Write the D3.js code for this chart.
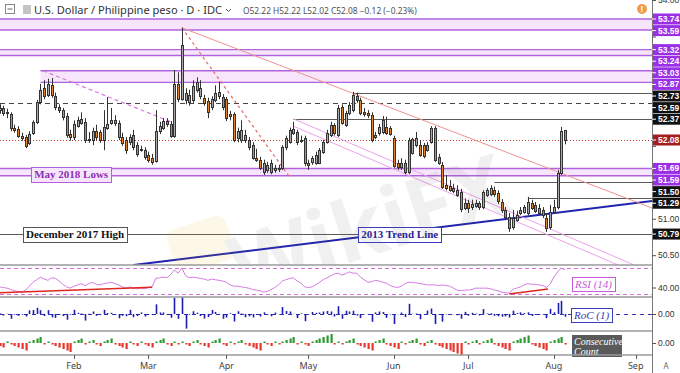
<!DOCTYPE html>
<html>
<head>
<meta charset="utf-8">
<script src="https://cdn.jsdelivr.net/npm/d3@7"></script>
<style>
  body { margin: 0; background: #fff; }
  svg { display: block; }
  text { font-family: "Noto Sans", "DejaVu Sans", sans-serif; }
</style>
</head>
<body>
<svg id="chart" width="680" height="373"></svg>
<script>
// daily bars, first one on startDate, one per weekday
const startDate = "2019-01-04";

const opens = [
  52.49, 52.52, 52.45, 52.44, 52.25, 52.23, 52.14, 52.12, 52.04, 52.18,
  52.33, 52.60, 52.79, 52.70, 52.83, 52.68, 52.53, 52.49, 52.41, 52.16,
  52.12, 52.27, 52.31, 52.33, 52.08, 52.08, 52.20, 52.19, 52.08, 52.25,
  52.31, 52.35, 52.31, 52.12, 52.08, 52.05, 52.15, 52.01, 51.94, 51.94,
  51.88, 51.83, 51.79, 52.20, 52.25, 52.34, 52.30, 52.14, 52.85, 52.64,
  52.63, 52.60, 52.63, 52.77, 52.68, 52.66, 52.62, 52.53, 52.63, 52.68,
  52.67, 52.64, 52.44, 52.44, 52.11, 52.08, 52.15, 52.08, 52.01, 51.83,
  51.81, 51.64, 51.67, 51.77, 51.67, 51.70, 51.70, 51.98, 52.05, 52.18,
  52.19, 52.07, 52.11, 51.77, 51.78, 51.77, 51.77, 51.92, 52.05, 52.15,
  52.29, 52.15, 52.53, 52.29, 52.45, 52.49, 52.68, 52.63, 52.46, 52.45,
  52.42, 52.12, 52.18, 52.19, 52.26, 52.25, 52.11, 51.77, 51.71, 51.77,
  51.64, 51.90, 52.01, 52.01, 52.01, 51.94, 52.05, 52.25, 51.85, 51.74,
  51.46, 51.45, 51.42, 51.39, 51.37, 51.15, 51.22, 51.16, 51.18, 51.22,
  51.16, 51.33, 51.34, 51.39, 51.35, 51.23, 51.12, 51.02, 50.89, 50.98,
  51.08, 51.09, 51.08, 51.22, 51.19, 51.15, 51.12, 51.01, 50.89, 51.09,
  51.16, 51.63, 52.22
];
const highs = [
  52.57, 52.55, 52.51, 52.46, 52.29, 52.27, 52.18, 52.15, 52.20, 52.35,
  52.63, 52.85, 52.90, 52.92, 52.93, 52.73, 52.57, 52.52, 52.45, 52.22,
  52.35, 52.40, 52.46, 52.38, 52.19, 52.25, 52.29, 52.22, 52.49, 52.67,
  52.52, 52.42, 52.35, 52.18, 52.12, 52.16, 52.22, 52.05, 52.00, 51.98,
  51.92, 51.89, 52.49, 52.33, 52.38, 52.38, 52.34, 53.04, 53.01, 53.62,
  52.79, 52.77, 52.90, 52.94, 52.90, 52.70, 52.66, 52.68, 52.83, 52.88,
  52.71, 52.67, 52.48, 52.46, 52.25, 52.35, 52.22, 52.12, 52.05, 51.96,
  51.85, 51.81, 51.78, 51.81, 51.74, 51.74, 52.01, 52.14, 52.25, 52.33,
  52.22, 52.14, 52.14, 51.81, 51.86, 51.92, 51.97, 52.08, 52.22, 52.33,
  52.31, 52.56, 52.57, 52.48, 52.60, 52.74, 52.73, 52.66, 52.52, 52.49,
  52.46, 52.19, 52.30, 52.41, 52.40, 52.27, 52.14, 51.81, 51.83, 51.81,
  52.11, 52.11, 52.19, 52.08, 52.04, 52.05, 52.27, 52.27, 51.89, 51.78,
  51.60, 51.53, 51.48, 51.46, 51.41, 51.28, 51.26, 51.26, 51.26, 51.24,
  51.39, 51.42, 51.46, 51.44, 51.39, 51.27, 51.16, 51.08, 51.12, 51.11,
  51.16, 51.19, 51.30, 51.26, 51.23, 51.20, 51.16, 51.07, 51.19, 51.26,
  51.67, 52.26, 52.22
];
const lows = [
  52.44, 52.41, 52.38, 52.20, 52.18, 52.11, 52.07, 51.97, 52.01, 52.15,
  52.30, 52.57, 52.64, 52.67, 52.66, 52.49, 52.45, 52.35, 52.11, 52.07,
  52.08, 52.25, 52.29, 52.04, 52.04, 52.01, 52.08, 52.04, 51.94, 52.22,
  52.29, 52.27, 52.08, 52.00, 51.89, 52.01, 51.94, 51.85, 51.92, 51.81,
  51.77, 51.74, 51.77, 52.16, 52.22, 52.26, 52.11, 52.11, 52.60, 52.62,
  52.57, 52.55, 52.59, 52.73, 52.64, 52.55, 52.38, 52.49, 52.60, 52.64,
  52.49, 52.34, 52.35, 52.05, 52.05, 52.04, 52.04, 51.94, 51.81, 51.78,
  51.67, 51.60, 51.63, 51.61, 51.63, 51.64, 51.67, 51.94, 52.03, 52.15,
  52.01, 52.04, 51.72, 51.67, 51.74, 51.74, 51.75, 51.89, 52.03, 52.12,
  52.14, 52.12, 52.29, 52.26, 52.42, 52.46, 52.59, 52.42, 52.40, 52.38,
  52.05, 52.09, 52.14, 52.16, 52.15, 52.14, 51.70, 51.67, 51.67, 51.61,
  51.61, 51.88, 51.98, 51.85, 51.83, 51.92, 52.03, 51.78, 51.74, 51.41,
  51.39, 51.37, 51.35, 51.30, 51.09, 51.12, 51.08, 51.12, 51.15, 51.12,
  51.13, 51.30, 51.31, 51.30, 51.20, 51.08, 50.98, 50.82, 50.85, 50.96,
  51.05, 51.07, 51.05, 51.12, 51.08, 51.05, 51.01, 50.82, 50.85, 51.07,
  51.13, 51.60, 52.02
];
const closes = [
  52.52, 52.45, 52.46, 52.25, 52.22, 52.14, 52.11, 52.00, 52.16, 52.33,
  52.60, 52.77, 52.68, 52.85, 52.70, 52.53, 52.49, 52.40, 52.15, 52.12,
  52.30, 52.35, 52.37, 52.08, 52.09, 52.20, 52.12, 52.08, 52.26, 52.30,
  52.35, 52.31, 52.12, 52.04, 51.94, 52.12, 51.98, 51.89, 51.96, 51.85,
  51.81, 51.78, 52.20, 52.27, 52.34, 52.30, 52.14, 52.85, 52.64, 53.38,
  52.73, 52.70, 52.82, 52.88, 52.79, 52.59, 52.46, 52.64, 52.73, 52.74,
  52.53, 52.38, 52.41, 52.08, 52.20, 52.22, 52.08, 51.98, 51.83, 51.81,
  51.70, 51.77, 51.74, 51.64, 51.70, 51.68, 51.98, 52.11, 52.22, 52.23,
  52.05, 52.08, 51.77, 51.74, 51.83, 51.88, 51.94, 52.05, 52.18, 52.29,
  52.18, 52.52, 52.31, 52.45, 52.56, 52.70, 52.63, 52.45, 52.44, 52.42,
  52.08, 52.15, 52.26, 52.35, 52.18, 52.16, 51.72, 51.71, 51.77, 51.64,
  52.08, 52.09, 52.11, 51.88, 51.86, 52.01, 52.25, 51.81, 51.77, 51.44,
  51.42, 51.39, 51.38, 51.33, 51.13, 51.22, 51.15, 51.20, 51.22, 51.16,
  51.37, 51.39, 51.42, 51.34, 51.24, 51.12, 51.02, 50.87, 51.01, 51.05,
  51.12, 51.16, 51.23, 51.15, 51.11, 51.08, 51.05, 50.87, 51.09, 51.16,
  51.63, 52.20, 52.08
];

// RSI (14)
const rsi = [
  41, 40, 39, 37, 35, 34, 33, 36, 42, 48,
  52, 56, 53, 51, 55, 54, 50, 45, 41, 39,
  42, 44, 46, 43, 46, 48, 45, 44, 46, 47,
  48, 46, 44, 41, 39, 41, 39, 38, 39, 38,
  40, 41, 54, 55, 56, 55, 60, 67, 62, 70,
  58, 55, 56, 55, 54, 53, 51, 53, 52, 51,
  50, 48, 44, 42, 42, 41, 40, 39, 37, 36,
  35, 33, 34, 37, 40, 44, 50, 52, 54, 55,
  50, 47, 41, 40, 41, 44, 48, 52, 55, 58,
  61, 62, 59, 61, 64, 62, 62, 56, 52, 48,
  49, 51, 50, 48, 47, 43, 41, 40, 42, 46,
  48, 48, 47, 46, 45, 44, 44, 44, 43, 44,
  43, 42, 39, 36, 35, 36, 36, 37, 39, 39,
  39, 39, 38, 36, 35, 33, 32, 31.5, 37, 39,
  41, 44, 46, 45, 45, 44, 43, 40, 45, 56,
  64, 70, 67
];

// RoC (1), percent
const roc = [
  0.05, -0.13, 0.02, -0.40, -0.06, -0.15, -0.06, -0.21, 0.31, 0.33,
  0.52, 0.32, -0.17, 0.32, -0.28, -0.32, -0.08, -0.17, -0.48, -0.06,
  0.35, 0.10, 0.04, -0.55, 0.02, 0.21, -0.15, -0.08, 0.35, 0.08,
  0.10, -0.08, -0.36, -0.15, -0.19, 0.35, -0.27, -0.17, 0.13, -0.21,
  -0.08, -0.06, 0.81, 0.13, 0.13, -0.08, -0.31, 1.36, -0.40, 1.41,
  -1.22, -0.06, 0.23, 0.11, -0.17, -0.38, -0.25, 0.34, 0.17, 0.02,
  -0.40, -0.29, 0.06, -0.63, 0.23, 0.04, -0.27, -0.19, -0.29, -0.04,
  -0.21, 0.14, -0.06, -0.19, 0.12, -0.04, 0.58, 0.25, 0.21, 0.02,
  -0.34, 0.06, -0.60, -0.06, 0.17, 0.10, 0.12, 0.21, 0.25, 0.21,
  -0.21, 0.65, -0.40, 0.27, 0.21, 0.27, -0.13, -0.34, -0.02, -0.04,
  -0.65, 0.13, 0.21, 0.17, -0.32, -0.04, -0.84, -0.02, 0.12, -0.25,
  0.85, 0.02, 0.04, -0.44, -0.04, 0.29, 0.46, -0.84, -0.08, -0.64,
  -0.04, -0.06, -0.02, -0.10, -0.39, 0.18, -0.14, 0.10, 0.04, -0.12,
  0.41, 0.04, 0.06, -0.16, -0.19, -0.23, -0.20, -0.29, 0.28, 0.08,
  0.14, 0.08, 0.14, -0.16, -0.08, -0.06, -0.06, -0.35, 0.43, 0.14,
  0.92, 1.10, -0.23
];

// consecutive up (+) / down (-) closes
const streak = [
  -2, -3, 1, -1, -2, -3, -4, -5, 1, 2,
  3, 4, -1, 1, -1, -2, -3, -4, -5, -6,
  1, 2, 3, -1, 1, 2, -1, -2, 1, 2,
  3, -1, -2, -3, -4, 1, -1, -2, 1, -1,
  -2, -3, 1, 2, 3, -1, -2, 1, -1, 1,
  -1, -2, 1, 2, -1, -2, -3, 1, 2, 3,
  -1, -2, 1, -1, 1, 2, -1, -2, -3, -4,
  -5, 1, -1, -2, 1, -1, 1, 2, 3, 4,
  -1, 1, -1, -2, 1, 2, 3, 4, 5, 6,
  -1, 1, -1, 1, 2, 3, -1, -2, -3, -4,
  -5, 1, 2, 3, -1, -2, -3, -4, 1, -1,
  1, 2, 3, -1, -2, 1, 2, -1, -2, -3,
  -4, -5, -6, -7, -8, 1, -1, 1, 2, -1,
  1, 2, 3, -1, -2, -3, -4, -5, 1, 2,
  3, 4, 5, -1, -2, -3, -4, -5, 1, 2,
  3, 4, -1
];

const monthNames = ["Feb", "Mar", "Apr", "May", "Jun", "Jul", "Aug", "Sep"];

// shaded support / resistance zones (from = bar index where they start)
const zones = [
  {top: 53.74, bottom: 53.59, from: 0},
  {top: 53.32, bottom: 53.24, from: 0},
  {top: 53.03, bottom: 52.87, from: 14},
  {top: 51.69, bottom: 51.59, from: 0}
];
const levels = [
  {price: 52.73, from: 98},
  {price: 52.59, from: 0, dash: "5,4"},
  {price: 52.37, from: 82},
  {price: 51.50, from: 136},
  {price: 51.29, from: 145},
  {price: 50.79, from: 0}
];
// [bar index, price] end points
const trendLines = [
  {from: [39, 50.365], to: [178.4, 51.243], color: "#2124ae", width: 2},
  {from: [52, 53.62], to: [178.4, 51.147], color: "#ef9292", width: 1},
  {from: [52, 53.62], to: [81, 51.57], color: "#e26a6a", width: 1.2, dash: "3,3"},
  {from: [14.7, 53.03], to: [50, 52.31], color: "#d67ad9", width: 1.2, dash: "4,3"},
  {from: [82, 52.37], to: [173.6, 50.365], color: "#eaa3ea", width: 1},
  {from: [82, 52.27], to: [169.3, 50.365], color: "#eaa3ea", width: 1}
];
const notes = [
  {text: "May 2018 Lows", at: [11.5, 51.61], color: "#8b2db3", border: "#b45fe0", fill: "#f7e6fb"},
  {text: "December 2017 High", at: [9.3, 50.785], color: "#111", border: "#555", fill: "#fff"},
  {text: "2013 Trend Line", at: [99.4, 50.785], color: "#1f2299", border: "#3a3ac0", fill: "#fff"}
];
// [bar index, RSI]
const rsiLines = [
  {from: [3, 32], to: [44, 40.3]},
  {from: [140, 30], to: [150.4, 37.7]}
];

const W = 680, H = 373, right = 652;
const mainBottom = 265, rsiBottom = 297, rocBottom = 331, ccBottom = 355;

const svg = d3.select("#chart");
svg.append("rect").attr("width", W).attr("height", H).attr("fill", "#fff");

const parse = d3.timeParse("%Y-%m-%d");
const days = d3.timeDay.range(parse("2019-01-01"), parse("2019-09-30"))
  .filter(d => d.getDay() % 6 !== 0);
const first = days.findIndex(d => +d === +parse(startDate));
const bars = opens.map((o, k) => ({
  i: first + k, o, h: highs[k], l: lows[k], c: closes[k],
  rsi: rsi[k], roc: roc[k], cc: streak[k]
}));

const x = d3.scaleLinear().domain([0, 174]).range([-11.6, 635.7]);
const y = d3.scaleLinear().domain([50.3655, 54.0006]).range([mainBottom, 0]);
const yRsi = d3.scaleLinear().domain([30, 70]).range([294, 268]);
const yRoc = d3.scaleLinear().domain([-1.42, 1.42]).range([rocBottom, rsiBottom]);
const yCc = d3.scaleLinear().domain([-8, 8]).range([ccBottom, rocBottom]);
const px = v => Math.round(v) + 0.5;

const defs = svg.append("defs");
defs.append("clipPath").attr("id", "clip-main")
  .append("rect").attr("width", right).attr("height", mainBottom);
defs.append("clipPath").attr("id", "clip-low")
  .append("rect").attr("y", mainBottom).attr("width", right).attr("height", ccBottom - mainBottom);

const main = svg.append("g").attr("clip-path", "url(#clip-main)");

// zone fills
zones.forEach(z => {
  main.append("rect")
    .attr("x", x(z.from)).attr("y", y(z.top))
    .attr("width", right - x(z.from)).attr("height", y(z.bottom) - y(z.top))
    .attr("fill", "#f7e6fb");
});

// horizontal levels
levels.forEach(l => {
  main.append("line")
    .attr("x1", Math.max(0, x(l.from))).attr("x2", right)
    .attr("y1", px(y(l.price))).attr("y2", px(y(l.price)))
    .attr("stroke", l.dash ? "#444" : "#5a5a5a").attr("stroke-width", 1)
    .attr("stroke-dasharray", l.dash || null);
});

zones.forEach(z => {
  [z.top, z.bottom].forEach(p => {
    main.append("line")
      .attr("x1", Math.max(0, x(z.from))).attr("x2", right)
      .attr("y1", y(p)).attr("y2", y(p))
      .attr("stroke", "#b163dd").attr("stroke-width", 1.4);
  });
});

// last price
const last = bars[bars.length - 1];
main.append("line")
  .attr("x1", 0).attr("x2", right)
  .attr("y1", px(y(last.c))).attr("y2", px(y(last.c)))
  .attr("stroke", "#c0392b").attr("stroke-dasharray", "1,2");

const seg = d3.line().x(d => x(d[0])).y(d => y(d[1]));
trendLines.forEach(t => {
  main.append("path")
    .attr("d", seg([t.from, t.to]))
    .attr("fill", "none")
    .attr("stroke", t.color).attr("stroke-width", t.width)
    .attr("stroke-dasharray", t.dash || null);
});

// candles
const candle = main.append("g").selectAll("g").data(bars).join("g");
candle.append("line")
  .attr("x1", d => px(x(d.i))).attr("x2", d => px(x(d.i)))
  .attr("y1", d => y(Math.max(d.h, d.o, d.c))).attr("y2", d => y(Math.min(d.l, d.o, d.c)))
  .attr("stroke", "#333");
candle.append("rect")
  .attr("x", d => Math.round(x(d.i)) - 0.5)
  .attr("width", 2)
  .attr("y", d => px(y(Math.max(d.o, d.c))))
  .attr("height", d => Math.max(1, Math.round(y(Math.min(d.o, d.c))) - Math.round(y(Math.max(d.o, d.c)))))
  .attr("fill", d => d.c >= d.o ? "#a9a9a9" : "#e0852c")
  .attr("stroke", "#333");

// text boxes on the chart
function box(g, left, cy, text, o) {
  const grp = g.append("g");
  const r = grp.append("rect");
  const t = grp.append("text")
    .attr("x", left + (o.pad || 3)).attr("y", cy).attr("dy", "0.35em")
    .attr("fill", o.color)
    .style("font-family", o.font || "'Liberation Serif', serif")
    .style("font-size", o.size || "11px")
    .style("font-weight", o.weight || "bold")
    .style("font-style", o.italic ? "italic" : null)
    .text(text);
  const w = t.node().getComputedTextLength();
  const h = o.h || 15;
  r.attr("x", px(left)).attr("y", px(cy - h / 2))
    .attr("width", Math.round(w + 2 * (o.pad || 3))).attr("height", h)
    .attr("fill", o.fill).attr("stroke", o.border).attr("stroke-width", 1);
  return grp;
}
notes.forEach(n => box(main, x(n.at[0]), y(n.at[1]), n.text, n));

// watermark
const wm = main.append("g").attr("opacity", 0.09);
wm.append("rect")
  .attr("x", 170).attr("y", 222).attr("width", 62).attr("height", 46).attr("rx", 10)
  .attr("fill", "#e8b400").attr("transform", "rotate(-18 200 245)");
wm.append("text")
  .attr("x", 370).attr("y", 255)
  .attr("text-anchor", "middle")
  .attr("transform", "rotate(-18 370 230)")
  .style("font-size", "84px").style("font-weight", "bold")
  .attr("fill", "#666")
  .text("WikiFX");

// ---- lower panels ----
const low = svg.append("g").attr("clip-path", "url(#clip-low)");

// RSI
[70, 30].forEach(v => {
  low.append("line").attr("x1", 0).attr("x2", right)
    .attr("y1", px(yRsi(v))).attr("y2", px(yRsi(v)))
    .attr("stroke", "#d46fdc").attr("stroke-dasharray", "4,3");
});
low.append("path")
  .datum(bars)
  .attr("d", d3.line().x(d => x(d.i)).y(d => yRsi(d.rsi)))
  .attr("fill", "none").attr("stroke", "#d57de2").attr("stroke-width", 1);
rsiLines.forEach(r => {
  low.append("path")
    .attr("d", d3.line().x(d => x(d[0])).y(d => yRsi(d[1]))([r.from, r.to]))
    .attr("stroke", "#e0261f").attr("stroke-width", 1.6).attr("fill", "none");
});

// RoC
low.append("line").attr("x1", 0).attr("x2", right)
  .attr("y1", px(yRoc(0))).attr("y2", px(yRoc(0)))
  .attr("stroke", "#3030b4").attr("stroke-dasharray", "4,4");
low.append("g").selectAll("line").data(bars).join("line")
  .attr("x1", d => px(x(d.i))).attr("x2", d => px(x(d.i)))
  .attr("y1", yRoc(0)).attr("y2", d => yRoc(d.roc))
  .attr("stroke", "#1c1cb0").attr("stroke-width", 1.6);

// Consecutive count
low.append("g").selectAll("rect").data(bars).join("rect")
  .attr("x", d => Math.round(x(d.i)) - 0.5)
  .attr("width", 2.2)
  .attr("y", d => Math.min(yCc(0), yCc(d.cc)))
  .attr("height", d => Math.abs(yCc(d.cc) - yCc(0)))
  .attr("fill", d => d.cc > 0 ? "#2e9a2e" : "#e8362d");

// panel labels
box(svg, 572, 284, "RSI (14)", {color: "#c75ad8", border: "#c75ad8", fill: "#fff", weight: "normal", italic: true, size: "11px", h: 14});
box(svg, 571, 315, "RoC (1)", {color: "#3636b8", border: "#3c3cc0", fill: "#fff", weight: "normal", italic: true, size: "11px", h: 14});
const cc = svg.append("g");
cc.append("rect").attr("x", 572).attr("y", 335).attr("width", 50).attr("height", 22).attr("fill", "#5a5a5a");
cc.append("text").attr("x", 574).attr("y", 344.5)
  .style("font-family", "'Liberation Serif', serif").style("font-style", "italic").style("font-size", "10px")
  .attr("fill", "#fff").text("Consecutive");
cc.append("text").attr("x", 574).attr("y", 355)
  .style("font-family", "'Liberation Serif', serif").style("font-style", "italic").style("font-size", "10px")
  .attr("fill", "#fff").text("Count");

// panel separators
[mainBottom, rsiBottom, rocBottom, ccBottom].forEach(v => {
  svg.append("line").attr("x1", 0).attr("x2", W).attr("y1", v).attr("y2", v)
    .attr("stroke", "#9a9a9a").attr("stroke-width", 1.6);
});

// ---- right price scale ----
const axisG = svg.append("g");
axisG.append("rect").attr("x", right).attr("width", W - right).attr("height", H).attr("fill", "#fff");
axisG.append("line").attr("x1", right + 0.5).attr("x2", right + 0.5).attr("y1", 0).attr("y2", H)
  .attr("stroke", "#777");

const fmt = d3.format(".2f");
const axisFont = "8.5px";

// colored price tags, pushed down when they collide
const tags = [];
zones.forEach(z => { tags.push({p: z.top, fill: "#9b2fe6"}); tags.push({p: z.bottom, fill: "#9b2fe6"}); });
levels.forEach(l => tags.push({p: l.price, fill: "#111"}));
tags.push({p: last.c, fill: "#a51c1c"});
tags.sort((a, b) => b.p - a.p);
let prevY = -Infinity;
tags.forEach(t => {
  t.cy = Math.max(y(t.p), prevY + 11.6);
  prevY = t.cy;
});

const styleAxis = g => {
  g.select(".domain").remove();
  g.selectAll(".tick line").attr("stroke", "#555");
  g.selectAll(".tick text").attr("fill", "#333").style("font-size", axisFont)
    .style("font-family", "'Liberation Sans', Arial, sans-serif");
};
axisG.append("g")
  .attr("transform", `translate(${right},0)`)
  .call(d3.axisRight(y).ticks(7).tickSize(4).tickPadding(2).tickFormat(fmt))
  .call(styleAxis)
  .selectAll(".tick text")
  .attr("display", d => tags.some(t => Math.abs(t.cy - y(d)) < 8) ? "none" : null);
axisG.append("g").attr("transform", `translate(${right},0)`)
  .call(d3.axisRight(yRsi).tickValues([40]).tickSize(4).tickPadding(2).tickFormat(fmt)).call(styleAxis);
axisG.append("g").attr("transform", `translate(${right},0)`)
  .call(d3.axisRight(yRoc).tickValues([0]).tickSize(4).tickPadding(2).tickFormat(fmt)).call(styleAxis);
axisG.append("g").attr("transform", `translate(${right},0)`)
  .call(d3.axisRight(yCc).tickValues([0]).tickSize(4).tickPadding(2).tickFormat(fmt)).call(styleAxis);

tags.forEach(t => {
  axisG.append("rect").attr("x", right + 1).attr("y", t.cy - 5.5).attr("width", W - right - 1).attr("height", 11)
    .attr("fill", t.fill);
  axisG.append("line").attr("x1", right).attr("x2", right + 4).attr("y1", t.cy).attr("y2", t.cy).attr("stroke", "#fff");
  axisG.append("text").attr("x", right + 6).attr("y", t.cy).attr("dy", "0.35em")
    .attr("fill", "#fff").style("font-size", axisFont).style("font-weight", "bold")
    .style("font-family", "'Liberation Sans', Arial, sans-serif")
    .text(fmt(t.p));
});

// ---- time axis ----
const monthIdx = monthNames.map((m, k) => days.findIndex(d => d.getMonth() === k + 1));
const xAxis = svg.append("g");
monthIdx.forEach((mi, k) => {
  xAxis.append("line").attr("x1", px(x(mi))).attr("x2", px(x(mi))).attr("y1", ccBottom).attr("y2", ccBottom + 4)
    .attr("stroke", "#555");
  xAxis.append("text").attr("x", x(mi)).attr("y", 366).attr("dy", "0.35em")
    .attr("text-anchor", "middle").attr("fill", "#444").style("font-size", "9px")
    .text(monthNames[k]);
});
svg.append("text").attr("x", 666).attr("y", 366).attr("dy", "0.35em").attr("text-anchor", "middle")
  .attr("fill", "#666").style("font-size", "8px").text("A");

// ---- header ----
const head = svg.append("g");
head.append("rect").attr("x", 5.5).attr("y", 4.5).attr("width", 9).attr("height", 9)
  .attr("fill", "#fff").attr("stroke", "#888");
head.append("line").attr("x1", 7.5).attr("x2", 12.5).attr("y1", 9).attr("y2", 9).attr("stroke", "#666");
head.append("rect").attr("x", 23).attr("y", 5).attr("width", 8).attr("height", 9).attr("fill", "#c4c4c4");
const title = head.append("text").attr("x", 34).attr("y", 14)
  .attr("fill", "#333").style("font-size", "12.5px")
  .text("U.S. Dollar / Philippine peso · D · IDC");
const tw = title.node().getComputedTextLength();
title.style("font-size", (12.5 * 188 / tw).toFixed(2) + "px");
head.append("path").attr("d", "M226,9 l2.5,2.5 l2.5,-2.5").attr("fill", "none").attr("stroke", "#555");

const prevClose = bars[bars.length - 2].c;
const chg = last.c - prevClose;
const minus = v => fmt(v).replace("-", "\u2212");
const ohlc = head.append("text").attr("x", 243).attr("y", 14)
  .attr("fill", "#505050").style("font-size", "11px")
  .text(`O${fmt(last.o)}  H${fmt(last.h)}  L${fmt(last.l)}  C${fmt(last.c)}  ${minus(chg)} (${minus(chg / prevClose * 100)}%)`);
const ow = ohlc.node().getComputedTextLength();
ohlc.style("font-size", (11 * 174 / ow).toFixed(2) + "px");

head.append("circle").attr("cx", 642).attr("cy", 9).attr("r", 5).attr("fill", "#f29a4a");
head.append("text").attr("x", 642).attr("y", 9).attr("dy", "0.35em").attr("text-anchor", "middle")
  .attr("fill", "#fff").style("font-size", "8px").style("font-weight", "bold").text("!");
</script>
</body>
</html>
